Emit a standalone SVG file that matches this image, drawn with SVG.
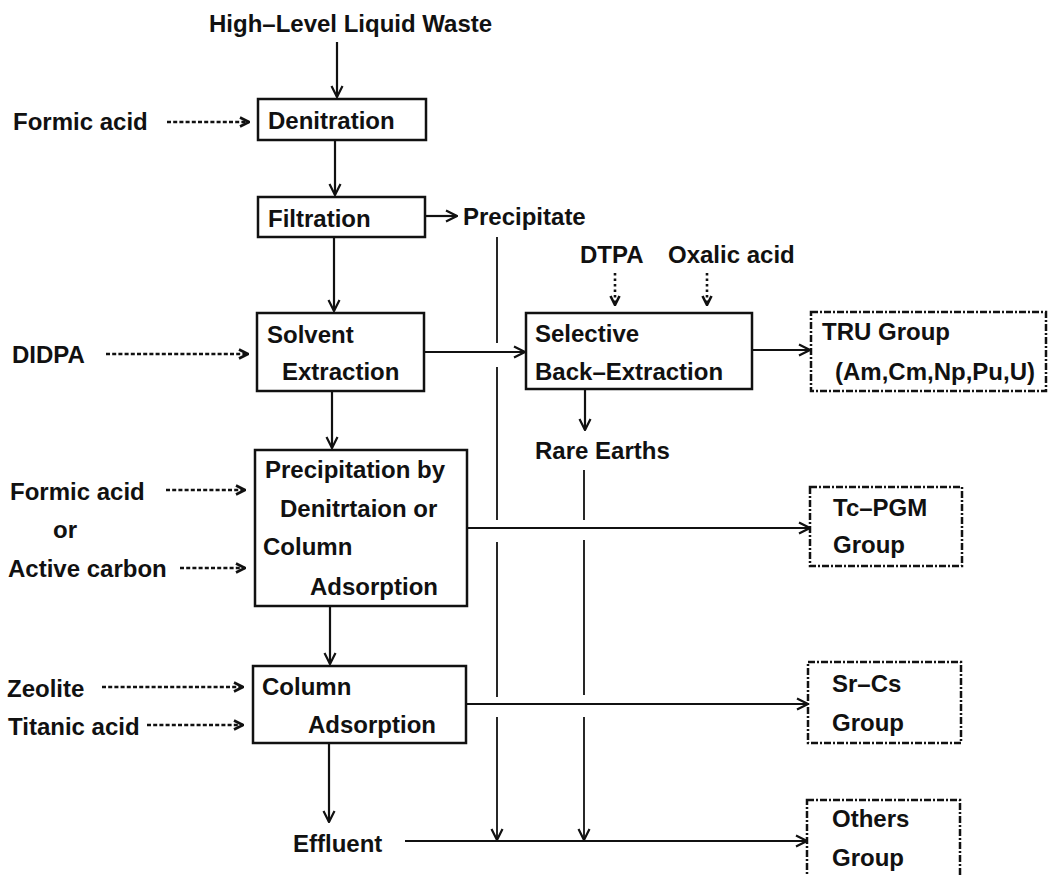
<svg xmlns="http://www.w3.org/2000/svg" width="1049" height="875" viewBox="0 0 1049 875">
<style>
text{font-family:"Liberation Sans",Arial,sans-serif;font-weight:bold;font-size:24px;fill:#111}
.box{fill:#fff;stroke:#111;stroke-width:2.5}
.grp{fill:#fff;stroke:#111;stroke-width:2.5;stroke-dasharray:7 2 2 2}
.ln{fill:none;stroke:#111;stroke-width:2.2}
.thin{fill:none;stroke:#111;stroke-width:1.8}
.dash{fill:none;stroke:#111;stroke-width:2.6;stroke-dasharray:4 2.2}
.dot{fill:none;stroke:#111;stroke-width:2.6;stroke-dasharray:2.5 3}
</style>
<defs>
<marker id="ah" viewBox="0 0 14 14" refX="13" refY="7" markerWidth="14" markerHeight="14" markerUnits="userSpaceOnUse" orient="auto"><path d="M2,1.5 L13,7 L2,12.5" fill="none" stroke="#111" stroke-width="2.2"/></marker>
<marker id="ahs" viewBox="0 0 12 12" refX="11" refY="6" markerWidth="12" markerHeight="12" markerUnits="userSpaceOnUse" orient="auto"><path d="M2,1.5 L11,6 L2,10.5" fill="none" stroke="#111" stroke-width="2.6"/></marker>
</defs>
<rect width="1049" height="875" fill="#fff"/>

<g id="connectors">
<path class="ln" d="M337,42 V97" marker-end="url(#ah)"/>
<path class="ln" d="M335,141 V195" marker-end="url(#ah)"/>
<path class="ln" d="M334,237 V311" marker-end="url(#ah)"/>
<path class="ln" d="M332,391 V448" marker-end="url(#ah)"/>
<path class="ln" d="M330,606 V664" marker-end="url(#ah)"/>
<path class="ln" d="M329,744 V822" marker-end="url(#ah)"/>
<path class="ln" d="M585,389 V430" marker-end="url(#ah)"/>
<path class="ln" d="M425,216 H457" marker-end="url(#ah)"/>
<path class="ln" d="M424,352 H525" marker-end="url(#ah)"/>
<path class="ln" d="M752,350 H810" marker-end="url(#ah)"/>
<path class="ln" d="M467,528 H810" marker-end="url(#ah)"/>
<path class="ln" d="M466,704 H808" marker-end="url(#ah)"/>
<path class="ln" d="M405,841 H807" marker-end="url(#ah)"/>
<path class="thin" d="M497,237 V343 M497,367 V520 M497,542 V697"/>
<path class="thin" d="M497,717 V840" marker-end="url(#ah)"/>
<path class="thin" d="M584,470 V520 M584,540 V695"/>
<path class="thin" d="M584,717 V840" marker-end="url(#ah)"/>
<path class="dash" d="M167,122 H249" marker-end="url(#ahs)"/>
<path class="dash" d="M106,354 H248" marker-end="url(#ahs)"/>
<path class="dash" d="M166,490 H245" marker-end="url(#ahs)"/>
<path class="dash" d="M180,568 H245" marker-end="url(#ahs)"/>
<path class="dash" d="M102,687 H243" marker-end="url(#ahs)"/>
<path class="dash" d="M147,725 H243" marker-end="url(#ahs)"/>
<path class="dot" d="M615,273 V305" marker-end="url(#ahs)"/>
<path class="dot" d="M707,273 V305" marker-end="url(#ahs)"/>
</g>

<g id="n-hlw"><text x="209" y="32">High–Level Liquid Waste</text></g>
<g id="n-formic1"><text x="13" y="130">Formic acid</text></g>
<g id="n-denitration"><rect class="box" x="258" y="99" width="168" height="41"/><text x="268" y="129">Denitration</text></g>
<g id="n-filtration"><rect class="box" x="258" y="197" width="167" height="40"/><text x="268" y="227">Filtration</text></g>
<g id="n-precipitate"><text x="463" y="225">Precipitate</text></g>
<g id="n-dtpa"><text x="580" y="263">DTPA</text></g>
<g id="n-oxalic"><text x="668" y="263">Oxalic acid</text></g>
<g id="n-didpa"><text x="12" y="363">DIDPA</text></g>
<g id="n-solvent"><rect class="box" x="257" y="313" width="167" height="78"/><text x="267" y="343">Solvent</text><text x="282" y="380">Extraction</text></g>
<g id="n-selective"><rect class="box" x="526" y="313" width="226" height="76"/><text x="535" y="342">Selective</text><text x="535" y="380">Back–Extraction</text></g>
<g id="n-tru"><rect class="grp" x="811" y="312" width="235" height="79"/><text x="822" y="340">TRU Group</text><text x="835" y="380">(Am,Cm,Np,Pu,U)</text></g>
<g id="n-rare"><text x="535" y="459">Rare Earths</text></g>
<g id="n-formic2"><text x="10" y="500">Formic acid</text><text x="53" y="538">or</text></g>
<g id="n-active"><text x="8" y="577">Active carbon</text></g>
<g id="n-precip"><rect class="box" x="255" y="450" width="212" height="156"/><text x="265" y="478">Precipitation by</text><text x="280" y="517">Denitrtaion or</text><text x="263" y="555">Column</text><text x="310" y="595">Adsorption</text></g>
<g id="n-tcpgm"><rect class="grp" x="810" y="487" width="152" height="79"/><text x="833" y="516">Tc–PGM</text><text x="833" y="553">Group</text></g>
<g id="n-zeolite"><text x="7" y="697">Zeolite</text></g>
<g id="n-titanic"><text x="8" y="735">Titanic acid</text></g>
<g id="n-column"><rect class="box" x="253" y="666" width="213" height="77"/><text x="262" y="695">Column</text><text x="308" y="733">Adsorption</text></g>
<g id="n-srcs"><rect class="grp" x="808" y="662" width="153" height="81"/><text x="832" y="692">Sr–Cs</text><text x="832" y="731">Group</text></g>
<g id="n-effluent"><text x="293" y="852">Effluent</text></g>
<g id="n-others"><rect class="grp" x="807" y="800" width="153" height="90"/><text x="832" y="827">Others</text><text x="832" y="866">Group</text></g>
</svg>
